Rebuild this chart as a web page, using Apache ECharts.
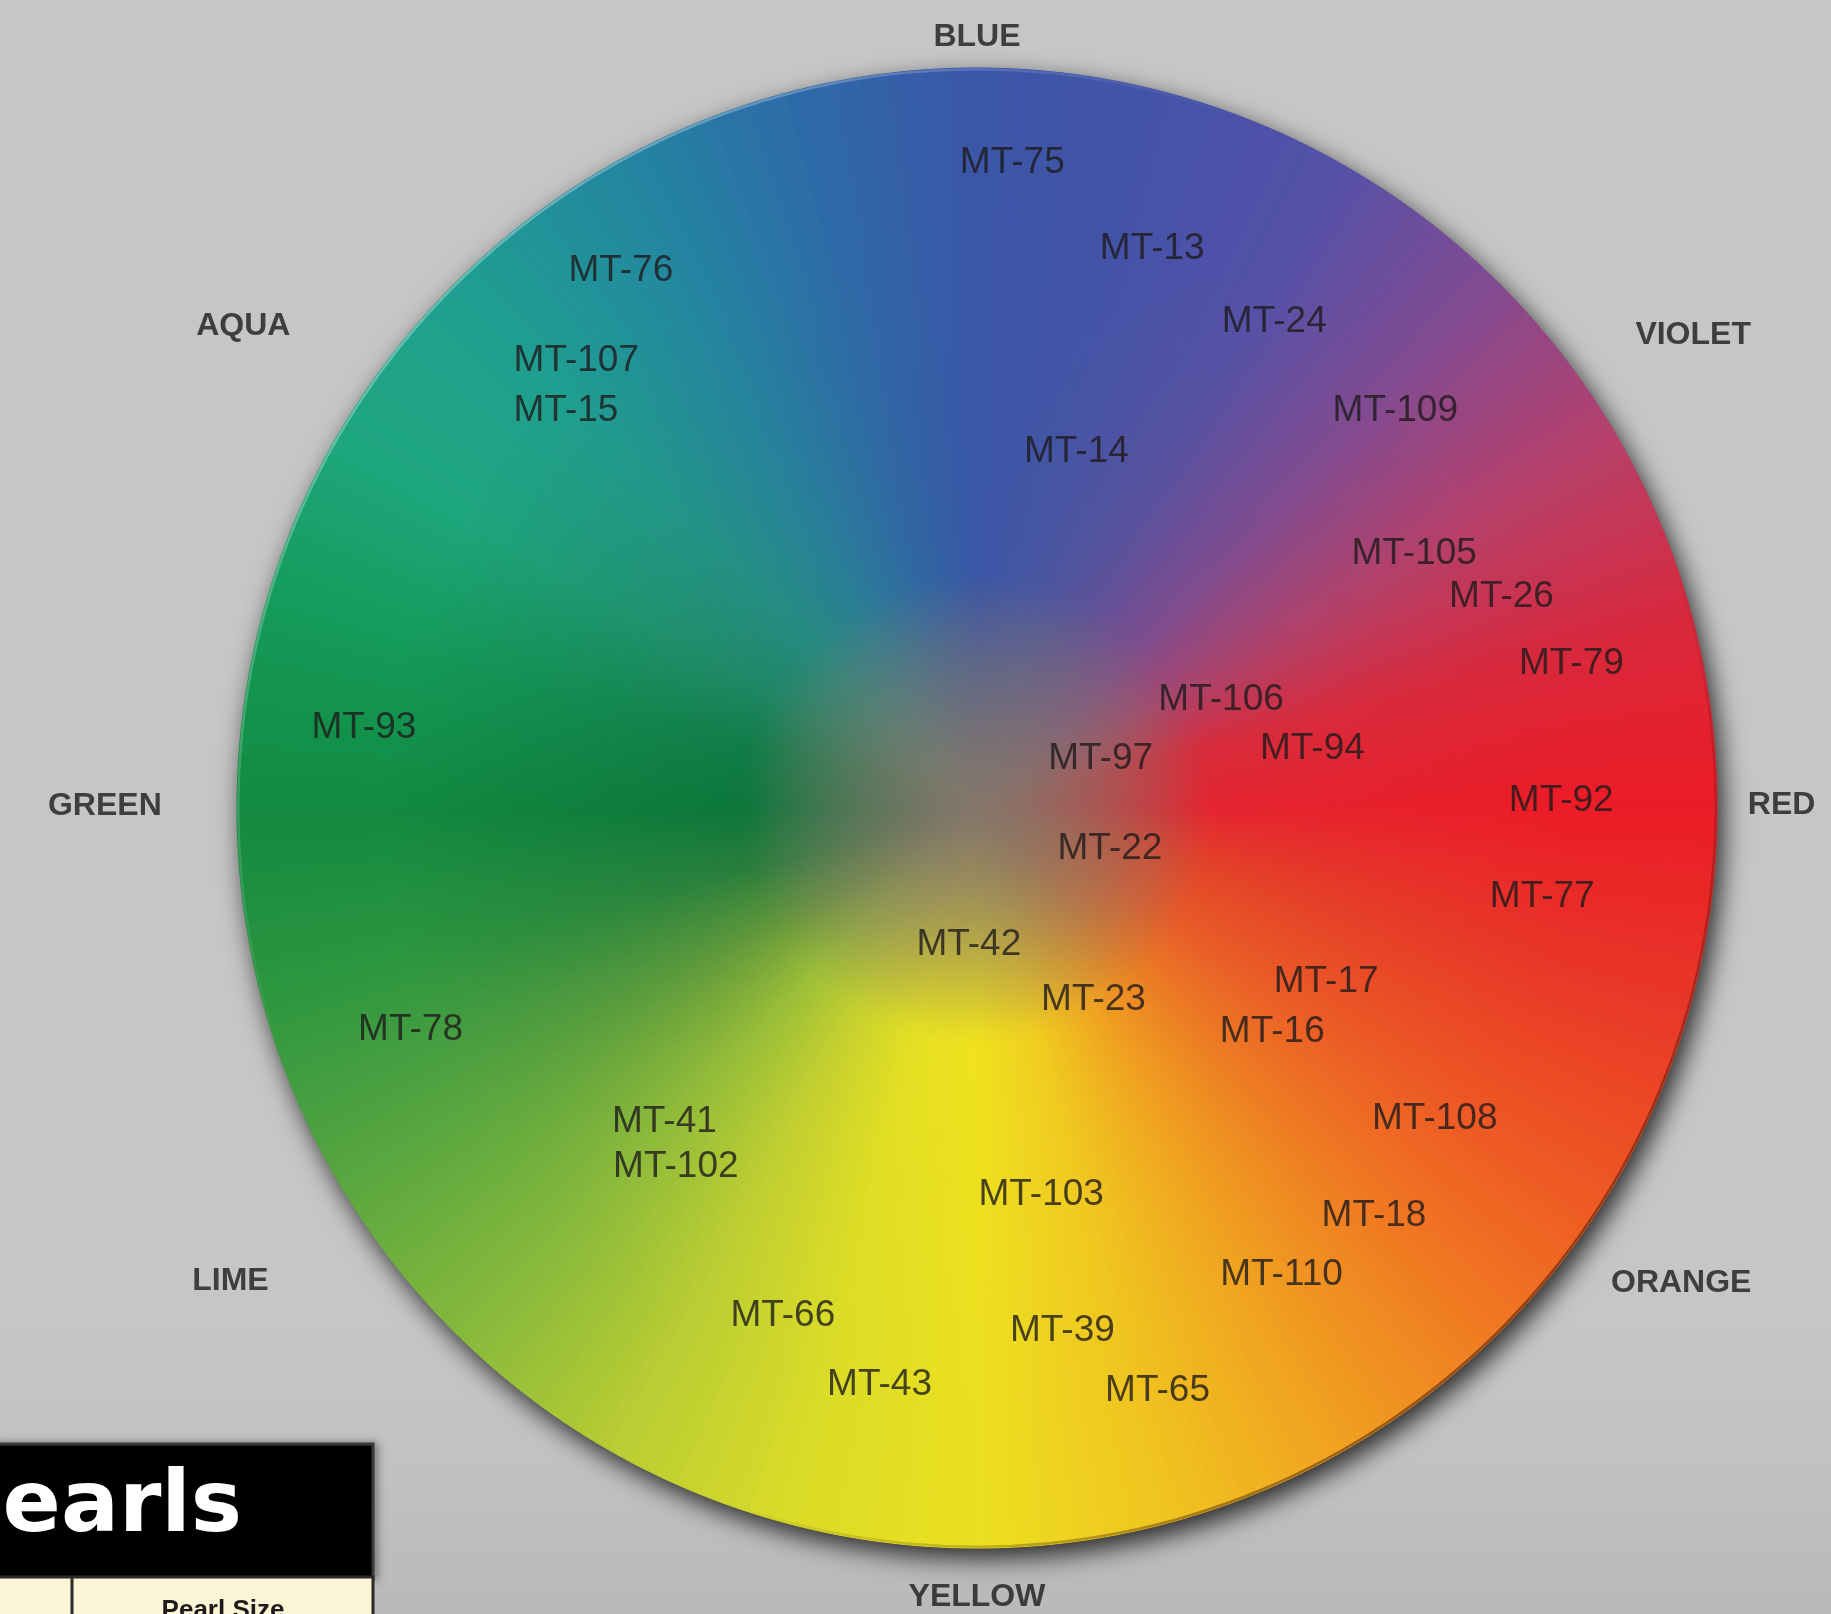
<!DOCTYPE html>
<html><head><meta charset="utf-8">
<script src="https://cdn.jsdelivr.net/npm/echarts@6/dist/echarts.min.js"></script>
<style>html,body{margin:0;padding:0;background:#c6c6c6;overflow:hidden}#c{width:1831px;height:1614px}</style>
</head><body><div id="c"></div>
<script>
// ---------- DATA ----------
const codes = ['MT-75','MT-13','MT-76','MT-24','MT-107','MT-15','MT-109','MT-14','MT-105','MT-26','MT-79','MT-106','MT-93','MT-94','MT-97','MT-92','MT-22','MT-77','MT-42','MT-17','MT-23','MT-78','MT-16','MT-108','MT-41','MT-102','MT-103','MT-18','MT-110','MT-66','MT-39','MT-43','MT-65'];
// angle in degrees clockwise from top; radius in % of wheel radius
const codeAngle = [3.1,17.2,326.8,31.1,318.6,314.5,46.0,15.3,59.1,67.4,75.7,64.7,278.1,78.8,65.6,88.6,104.3,98.2,183.6,115.6,147.7,249.2,126.3,123.6,225.5,220.6,170.4,135.3,146.5,201.2,170.6,189.7,162.6];
const codeRadius = [88.0,79.9,87.7,77.6,81.7,77.7,78.4,50.8,68.7,76.6,82.7,36.4,83.5,46.1,18.3,78.8,18.5,77.0,17.5,52.2,29.4,81.7,49.4,74.1,59.1,62.4,51.9,76.1,74.4,72.4,70.5,78.0,81.4];
const hueNames = ['BLUE','VIOLET','RED','ORANGE','YELLOW','LIME','GREEN','AQUA'];
const hueAngle = [0,56.2,89.3,123.6,180,238.0,270.6,303.7];
const hueRadius = [104.9,116.2,108.5,114.0,105.5,118.7,117.6,118.9];
const wheelDegrees = 360; // one slice per degree of the colour wheel

// ---------- STYLE ----------
const CX = 977, CY = 808, R = 740;
const STOP_STEP = 15;
const RIM = ['#3b56a8','#4453a8','#5651a8','#844a90','#b8406a','#d8283c','#ec1c26','#e83628','#ee5424','#f07822','#f0a020','#f0c420','#ece020','#dadc28','#b8cc34','#84b83c','#58a640','#2e9640','#128a40','#149a58','#1ea67e','#1f9f90','#2388a0','#2d6ca8'];
const INNER = ['#3a56a6','#4856a2','#5e5299','#7e4c8e','#a8446e','#d82c3c','#e42430','#e44428','#e85c28','#ec7c24','#f0a420','#f0cc20','#f0e21e','#e6e022','#c8d22e','#9cbe38','#64983a','#2a7e3c','#0c763a','#127c48','#208666','#268a80','#2a7e96','#3068a2'];
const CENTER = '#84766a';
const TXT = '#1e1a1b';

function hex(c){return [parseInt(c.slice(1,3),16),parseInt(c.slice(3,5),16),parseInt(c.slice(5,7),16)];}
function mix(a,b,t){const A=hex(a),B=hex(b);return 'rgb('+A.map((v,i)=>Math.round(v+(B[i]-v)*t)).join(',')+')';}
function ringColor(arr, deg){
  const p = deg / STOP_STEP, i = Math.floor(p) % arr.length, j = (i+1) % arr.length;
  return mix(arr[i], arr[j], p - Math.floor(p));
}
const slices = [];
for (let d = 0; d < wheelDegrees; d++) {
  const a = d + 0.5;
  const inner = ringColor(INNER, a), rim = ringColor(RIM, a);
  const grad = {type:'radial', x:CX, y:CY, r:R, global:true, colorStops:[
    {offset:0, color:CENTER},{offset:0.32, color:inner},{offset:0.8, color:rim},{offset:1, color:rim}]};
  slices.push({value:1, itemStyle:{color:grad, borderColor:grad, borderWidth:1}});
}

const chart = echarts.init(document.getElementById('c'), null, {renderer:'canvas'});
chart.setOption({
  animation:false,
  backgroundColor:'transparent',
  polar:{center:[977,815], radius:890},
  angleAxis:{type:'value', min:0, max:360, startAngle:90, clockwise:true, show:false},
  radiusAxis:{type:'value', min:0, max:120, show:false},
  graphic:[
    {type:'rect', z:-100, silent:true, shape:{x:0,y:0,width:1831,height:1614},
      style:{fill:{type:'linear',x:0,y:0,x2:0,y2:1,colorStops:[{offset:0,color:'#c6c6c6'},{offset:0.82,color:'#c6c6c6'},{offset:0.9,color:'#c2c2c2'},{offset:1,color:'#b9b9b9'}]}}},
    {type:'group', z:100, silent:true, children:[
      {type:'rect', shape:{x:-6,y:1444,width:379,height:134}, style:{fill:'#000',stroke:'#3a3a3a',lineWidth:3, shadowBlur:8, shadowOffsetX:3, shadowColor:'rgba(0,0,0,0.35)'}},
      {type:'rect', shape:{x:-6,y:1577,width:379,height:60}, style:{fill:'#fbf5d6',stroke:'#2a2a2a',lineWidth:3}},
      {type:'line', shape:{x1:72,y1:1577,x2:72,y2:1620}, style:{stroke:'#2a2a2a',lineWidth:3}},
      {type:'text', style:{text:'Pearls', x:242, y:1509, align:'right', verticalAlign:'middle', fill:'#ffffff', font:'bold 86px "DejaVu Sans"'}},
      {type:'text', style:{text:'Pearl Size', x:223, y:1598, align:'center', verticalAlign:'top', fill:TXT, font:'bold 26px "Liberation Sans"'}}
    ]}
  ],
  series:[
    {type:'pie', silent:true, center:[CX,CY], radius:R, startAngle:90, label:{show:false}, labelLine:{show:false},
      data:[{value:1, itemStyle:{color:'#5a5a5a', shadowBlur:26, shadowOffsetX:6, shadowOffsetY:10, shadowColor:'rgba(0,0,0,0.8)'}}]},
    {type:'pie', silent:true, center:[CX,CY], radius:R, startAngle:90, clockwise:true, sort:null,
      label:{show:false}, labelLine:{show:false}, data:slices},
    {type:'pie', silent:true, center:[CX,CY], radius:R*0.3, startAngle:90, label:{show:false}, labelLine:{show:false},
      data:[{value:1, itemStyle:{color:{type:'radial',x:0.5,y:0.5,r:0.5,colorStops:[{offset:0,color:'rgba(132,118,106,0.55)'},{offset:0.5,color:'rgba(132,118,106,0.25)'},{offset:1,color:'rgba(132,118,106,0)'}]}}}]},
    {type:'pie', silent:true, center:[CX,CY], radius:[R-2.5,R], startAngle:90, label:{show:false}, labelLine:{show:false},
      data:[{value:1, itemStyle:{color:{type:'linear',x:0,y:0,x2:1,y2:1,colorStops:[{offset:0,color:'rgba(255,255,255,0.55)'},{offset:0.35,color:'rgba(255,255,255,0)'},{offset:0.65,color:'rgba(60,20,10,0)'},{offset:1,color:'rgba(50,15,5,0.85)'}]}}}]},
    {type:'scatter', coordinateSystem:'polar', silent:true, clip:false, symbolSize:1, itemStyle:{color:'rgba(0,0,0,0)'},
      data: codes.map((c,i)=>({name:c, value:[codeRadius[i], codeAngle[i]]})),
      label:{show:true, position:'inside', formatter:'{b}', color:TXT, fontSize:37, fontFamily:'"Liberation Sans", Arial, sans-serif'}},
    {type:'scatter', coordinateSystem:'polar', silent:true, clip:false, symbolSize:1, itemStyle:{color:'rgba(0,0,0,0)'},
      data: hueNames.map((c,i)=>({name:c, value:[hueRadius[i], hueAngle[i]]})),
      label:{show:true, position:'inside', formatter:'{b}', color:TXT, fontSize:32, fontWeight:'bold', fontFamily:'"Liberation Sans", Arial, sans-serif'}}
  ]
});
</script></body></html>
